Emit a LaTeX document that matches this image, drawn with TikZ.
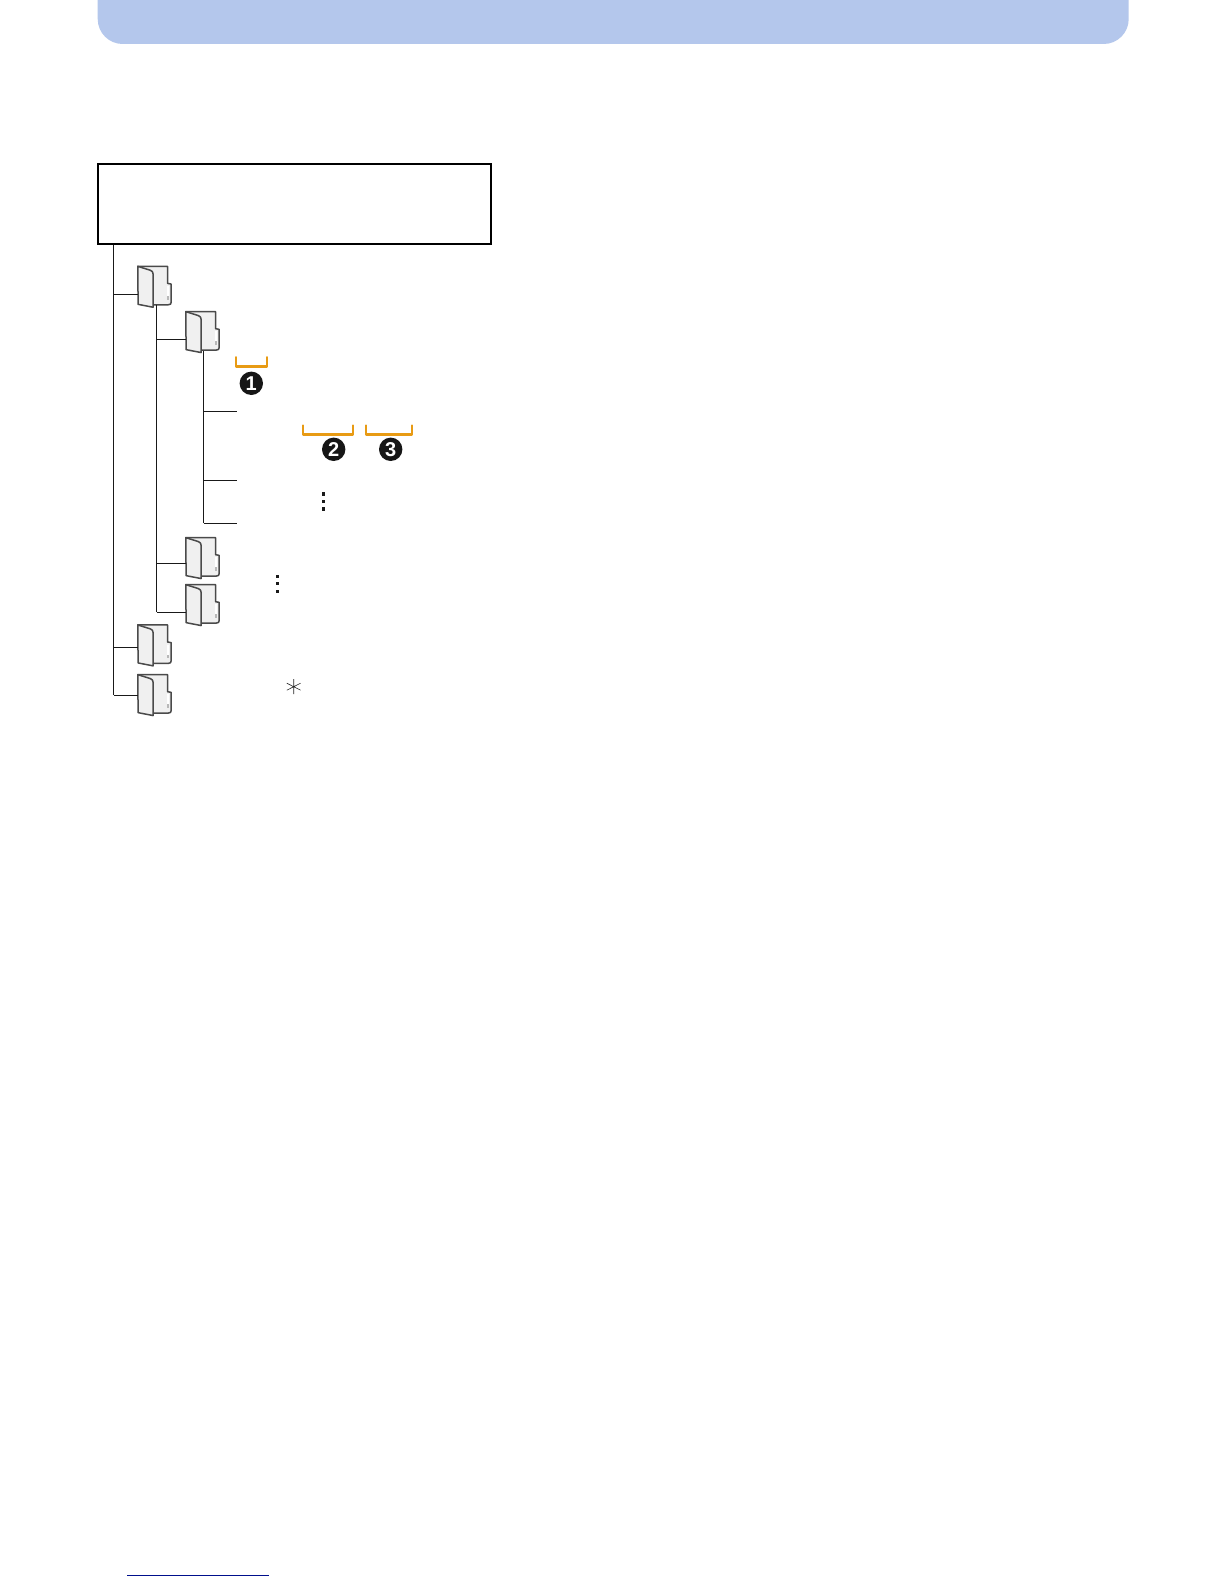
\documentclass[tikz,border=0pt]{standalone}
\usepackage{fontspec}
\setmainfont{Liberation Sans}
\definecolor{headblue}{HTML}{B4C7EC}
\definecolor{bracketorange}{HTML}{E89B14}
\definecolor{foldergrey}{HTML}{4A4A4A}
\definecolor{folderfill}{HTML}{F0F0F0}
\definecolor{linknavy}{HTML}{000F8C}
\definecolor{badgeblack}{HTML}{161616}
\tikzset{
  x=1pt,y=-1pt,
  wire/.style={draw=black!90,line width=1pt},
  framebox/.style={draw=black,line width=1.9pt,fill=white,inner sep=0pt,minimum width=392.8pt,minimum height=79.8pt},
  folderslot/.style={inner sep=0pt,minimum width=33.6pt,minimum height=41.3pt},
  bracketline/.style={draw=bracketorange,line width=2.4pt,line cap=round,line join=round},
  badge/.style={circle,fill=badgeblack,text=white,inner sep=0pt,minimum size=23.4pt,font=\fontsize{20}{20}\selectfont\bfseries},
  dotmark/.style={fill=black!90,inner sep=0pt,minimum size=3.2pt},
  pics/folderglyph/.style={code={
    \begin{scope}[shift={(-16.8,-20.65)}]
    \path[fill=folderfill,draw=foldergrey,line width=1.5pt,line join=round]
      (0,0.3) -- (29.7,0.3) -- (29.7,17.3) -- (33.4,18) -- (33.4,36)
      .. controls (33.4,38) and (32.5,38.7) .. (30.5,38.7) -- (14,38.7) -- cycle;
    \fill[white] (29.4,20) rectangle (31.4,30);
    \fill[black!28] (29.4,30) rectangle (31.6,33.5);
    \path[fill=folderfill,draw=foldergrey,line width=1.5pt,line join=round]
      (0,0.3) -- (12.5,4.2) .. controls (14.5,5) and (15.3,6) .. (15.3,8)
      -- (15.3,41.2) -- (0.3,38.3) -- cycle;
    \end{scope}
  }}
}
\newcommand{\placefolder}[3]{%
  \node[folderslot] (#1) at (#2,#3) {};
  \pic at (#1.center) {folderglyph};
}
\begin{document}
\begin{tikzpicture}
\useasboundingbox (0,0) rectangle (1224,1584);
\fill[white] (0,0) rectangle (1224,1584);
% header band
\fill[headblue,rounded corners=25pt] (97.7,-40) -- (97.7,44) -- (1128.7,44) -- (1128.7,-40) -- cycle;
% root frame
\node[framebox] (root) at (294.3,204.1) {};
% folders
\placefolder{fa}{154.6}{286.7}
\placefolder{fb}{202.6}{332}
\placefolder{fc}{202.6}{558}
\placefolder{fd}{202.6}{605}
\placefolder{fe}{154.6}{645.3}
\placefolder{ff}{154.6}{695}
% trunk coordinates
\coordinate (ttop) at (113.7,244.6);
\coordinate (ta) at (113.7,294.8);
\coordinate (te) at (113.7,647.3);
\coordinate (tf) at (113.7,695.3);
\coordinate (mtop) at (156.6,304.8);
\coordinate (mb) at (156.6,339.3);
\coordinate (mc) at (156.6,563.3);
\coordinate (md) at (156.6,612.3);
\coordinate (ltop) at (203.6,351);
\coordinate (la) at (203.6,411.3);
\coordinate (lb) at (203.6,480.3);
\coordinate (lc) at (203.6,523.3);
\coordinate (ea) at (237,411.3);
\coordinate (eb) at (237,480.3);
\coordinate (ec) at (237,523.3);
% connectors
\draw[wire] (ttop) -- (tf);
\draw[wire] (ta) -- (ta -| fa.west);
\draw[wire] (te) -- (te -| fe.west);
\draw[wire] (tf) -- (tf -| ff.west);
\draw[wire] (mtop) -- (md);
\draw[wire] (mb) -- (mb -| fb.west);
\draw[wire] (mc) -- (mc -| fc.west);
\draw[wire] (md) -- (md -| fd.west);
\draw[wire] (ltop) -- (lc);
\draw[wire] (la) -- (ea);
\draw[wire] (lb) -- (eb);
\draw[wire] (lc) -- (ec);
% brackets
\draw[bracketline] (236,357.2) -- (236,366.6) -- (267,366.6) -- (267,357.2);
\draw[bracketline] (303,425.5) -- (303,434.6) -- (353,434.6) -- (353,425.5);
\draw[bracketline] (366,425.5) -- (366,434.6) -- (411.7,434.6) -- (411.7,425.5);
% badges
\node[badge] (b1) at (251.3,383.3) {1};
\node[badge] (b2) at (333.7,449.3) {2};
\node[badge] (b3) at (390.7,449.3) {3};
% vertical ellipses
\node[dotmark] (d1) at (323.3,494) {};
\node[dotmark] (d2) at (323.3,501.5) {};
\node[dotmark] (d3) at (323.3,509) {};
\node[dotmark] (d4) at (277.3,576.5) {};
\node[dotmark] (d5) at (277.3,583.8) {};
\node[dotmark] (d6) at (277.3,591.3) {};
% asterisk
\draw[black!85,line width=0.6pt] (293.7,679) -- (293.7,694.2)
  (286.8,683.2) -- (300.6,690.2) (286.8,690.2) -- (300.6,683.2);
% bottom link rule
\draw[linknavy,line width=1pt] (127,1575) -- (269,1575);
\end{tikzpicture}
\end{document}
